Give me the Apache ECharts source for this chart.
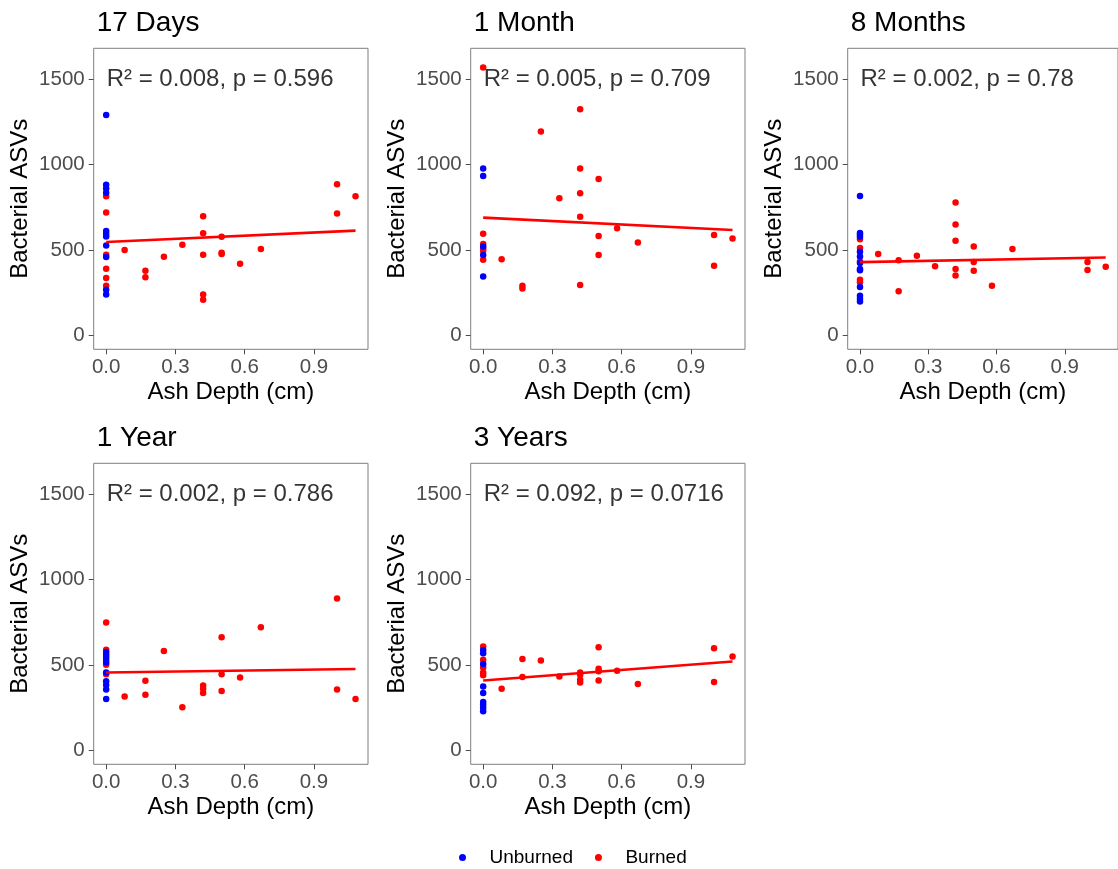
<!DOCTYPE html>
<html>
<head>
<meta charset="utf-8">
<script src="https://cdn.jsdelivr.net/npm/echarts@6/dist/echarts.min.js"></script>
<style>
  html, body { margin: 0; padding: 0; background: #ffffff; }
  #chart { width: 1118px; height: 869px; }
</style>
</head>
<body>
<div id="chart"></div>
<script>
// Panel titles and regression annotations
const panelTitles = ['17 Days', '1 Month', '8 Months', '1 Year', '3 Years'];
const statLabels = [
  'R² = 0.008, p = 0.596',
  'R² = 0.005, p = 0.709',
  'R² = 0.002, p = 0.78',
  'R² = 0.002, p = 0.786',
  'R² = 0.092, p = 0.0716'
];

// Axis ticks
const xTicks = [0, 0.3, 0.6, 0.9];
const yTicks = [0, 500, 1000, 1500];

// Unburned plots all sit at ash depth 0 (bacterial ASV counts)
const unburned17d = [1290, 882, 860, 835, 612, 596, 580, 527, 460, 268, 240];
const unburned1m = [977, 933, 521, 471, 346];
const unburned8m = [817, 600, 590, 578, 490, 463, 424, 389, 382, 284, 233, 215, 200];
const unburned1y = [576, 562, 548, 532, 515, 457, 405, 383, 358, 302];
const unburned3y = [589, 570, 506, 375, 337, 284, 268, 250, 230];

// Burned plots: ash depth (cm) and bacterial ASVs
const burnedDepth17d = [0, 0, 0, 0, 0, 0, 0.08, 0.17, 0.17, 0.25, 0.33, 0.42, 0.42, 0.42, 0.42, 0.42, 0.5, 0.5, 0.5, 0.58, 0.67, 1.0, 1.0, 1.08];
const burnedAsv17d = [815, 720, 473, 391, 337, 292, 500, 379, 342, 461, 531, 698, 599, 473, 241, 210, 578, 484, 477, 420, 506, 885, 714, 815];

const burnedDepth1m = [0, 0, 0, 0, 0, 0, 0.08, 0.17, 0.17, 0.25, 0.33, 0.42, 0.42, 0.42, 0.42, 0.42, 0.5, 0.5, 0.5, 0.58, 0.67, 1.0, 1.0, 1.08];
const burnedAsv1m = [1568, 595, 535, 510, 496, 443, 447, 292, 276, 1193, 803, 1323, 977, 833, 695, 296, 916, 582, 471, 628, 545, 589, 409, 568];

const burnedDepth8m = [0, 0, 0, 0, 0, 0.08, 0.17, 0.17, 0.25, 0.33, 0.42, 0.42, 0.42, 0.42, 0.42, 0.5, 0.5, 0.5, 0.58, 0.67, 1.0, 1.0, 1.08];
const burnedAsv8m = [564, 512, 433, 327, 312, 477, 440, 259, 467, 405, 778, 650, 554, 389, 352, 521, 430, 379, 292, 506, 430, 383, 403];

const burnedDepth1y = [0, 0, 0, 0, 0.08, 0.17, 0.17, 0.25, 0.33, 0.42, 0.42, 0.42, 0.5, 0.5, 0.5, 0.58, 0.67, 1.0, 1.0, 1.08];
const burnedAsv1y = [749, 590, 502, 447, 317, 409, 327, 582, 253, 381, 362, 337, 663, 447, 348, 428, 722, 889, 358, 302];

const burnedDepth3y = [0, 0, 0, 0, 0, 0.08, 0.17, 0.17, 0.25, 0.33, 0.42, 0.42, 0.42, 0.42, 0.5, 0.5, 0.5, 0.5, 0.58, 0.67, 1.0, 1.0, 1.08];
const burnedAsv3y = [609, 531, 486, 457, 440, 362, 535, 430, 527, 434, 457, 444, 414, 399, 605, 479, 464, 410, 467, 389, 599, 401, 551];

// Fitted regression line: depth range and fitted ASVs at each end
const fitDepth = [0, 1.08];
const fitAsv17d = [547, 614];
const fitAsv1m = [690, 618];
const fitAsv8m = [430, 457];
const fitAsv1y = [457, 477];
const fitAsv3y = [410, 521];

const unburnedSets = [unburned17d, unburned1m, unburned8m, unburned1y, unburned3y];
const burnedDepthSets = [burnedDepth17d, burnedDepth1m, burnedDepth8m, burnedDepth1y, burnedDepth3y];
const burnedAsvSets = [burnedAsv17d, burnedAsv1m, burnedAsv8m, burnedAsv1y, burnedAsv3y];
const fitSets = [fitAsv17d, fitAsv1m, fitAsv8m, fitAsv1y, fitAsv3y];

// Panel placement (pixels)
const panelBoxes = [
  { left: 93.7, top: 48.3 },
  { left: 470.7, top: 48.3 },
  { left: 847.7, top: 48.3 },
  { left: 93.7, top: 463.3 },
  { left: 470.7, top: 463.3 }
];
const panelW = 274.3, panelH = 301;

const FONT = 'Liberation Sans, Arial, sans-serif';
const BLUE = '#0000FF', RED = '#FF0000';

const grids = [], xAxes = [], yAxes = [], titles = [], series = [];

panelBoxes.forEach((b, i) => {
  grids.push({
    left: b.left, top: b.top, width: panelW, height: panelH,
    show: true, borderColor: '#7f7f7f', borderWidth: 1, backgroundColor: '#ffffff',
    containLabel: false
  });
  titles.push({
    text: panelTitles[i], left: b.left - 2, top: b.top - 44,
    textStyle: { fontFamily: FONT, fontSize: 28, fontWeight: 'normal', color: '#000' }
  });
  xAxes.push({
    gridIndex: i, type: 'value', min: -0.054, max: 1.134,
    name: 'Ash Depth (cm)', nameLocation: 'middle', nameGap: 31,
    nameTextStyle: { fontFamily: FONT, fontSize: 24, color: '#000' },
    axisLine: { show: false, onZero: false },
    axisTick: { show: true, inside: false, length: 5, customValues: xTicks, lineStyle: { color: '#4d4d4d' } },
    axisLabel: {
      customValues: xTicks, margin: 8,
      formatter: v => v.toFixed(1),
      fontFamily: FONT, fontSize: 20.5, color: '#4d4d4d'
    },
    splitLine: { show: false }
  });
  yAxes.push({
    gridIndex: i, type: 'value', min: -80, max: 1680,
    name: 'Bacterial ASVs', nameLocation: 'middle', nameGap: 61,
    nameTextStyle: { fontFamily: FONT, fontSize: 24, color: '#000' },
    axisLine: { show: false, onZero: false },
    axisTick: { show: true, inside: false, length: 5, customValues: yTicks, lineStyle: { color: '#4d4d4d' } },
    axisLabel: {
      customValues: yTicks, margin: 9,
      formatter: v => String(v),
      fontFamily: FONT, fontSize: 20.5, color: '#4d4d4d'
    },
    splitLine: { show: false }
  });

  // Burned plots
  series.push({
    name: 'Burned', type: 'scatter', xAxisIndex: i, yAxisIndex: i,
    symbol: 'circle', symbolSize: 6.5, itemStyle: { color: RED, opacity: 1 },
    data: burnedDepthSets[i].map((d, k) => [d, burnedAsvSets[i][k]]),
    z: 2
  });
  // Unburned plots
  series.push({
    name: 'Unburned', type: 'scatter', xAxisIndex: i, yAxisIndex: i,
    symbol: 'circle', symbolSize: 6.5, itemStyle: { color: BLUE, opacity: 1 },
    data: unburnedSets[i].map(v => [0, v]),
    z: 3
  });
  // Linear fit
  series.push({
    name: 'fit', type: 'line', xAxisIndex: i, yAxisIndex: i,
    showSymbol: false, symbol: 'none', silent: true,
    lineStyle: { color: RED, width: 2.6 },
    data: fitDepth.map((d, k) => [d, fitSets[i][k]]),
    z: 4
  });
  // R² / p annotation anchored at depth 0, 1500 ASVs
  series.push({
    name: 'stat', type: 'scatter', xAxisIndex: i, yAxisIndex: i,
    symbol: 'circle', symbolSize: 1, silent: true,
    itemStyle: { color: 'rgba(0,0,0,0)' },
    label: {
      show: true, position: 'right', distance: 0,
      formatter: statLabels[i],
      fontFamily: FONT, fontSize: 24, color: '#000'
    },
    data: [[0, 1500]],
    z: 5
  });
});

const chart = echarts.init(document.getElementById('chart'), null, { renderer: 'canvas' });
chart.setOption({
  animation: false,
  backgroundColor: '#ffffff',
  title: titles,
  grid: grids,
  xAxis: xAxes,
  yAxis: yAxes,
  legend: {
    data: [
      { name: 'Unburned', icon: 'circle', itemStyle: { color: BLUE, opacity: 1 } },
      { name: 'Burned', icon: 'circle', itemStyle: { color: RED, opacity: 1 } }
    ],
    left: 454, top: 843,
    itemWidth: 44, itemHeight: 7, itemGap: 22,
    textStyle: { fontFamily: FONT, fontSize: 19, color: '#000' },
    selectedMode: false
  },
  series: series
});
</script>
</body>
</html>
